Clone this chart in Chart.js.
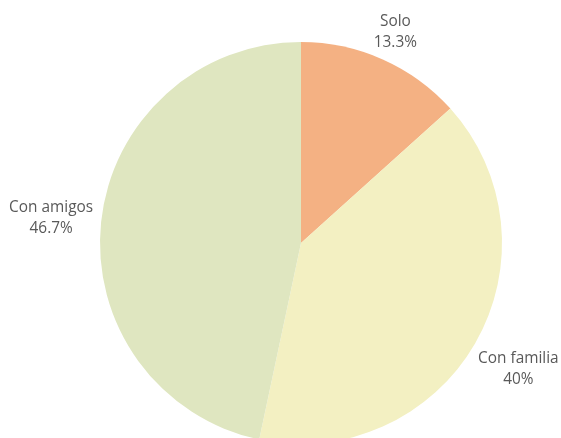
<!DOCTYPE html>
<html>
<head>
<meta charset="utf-8">
<script src="https://cdn.jsdelivr.net/npm/chart.js@4/dist/chart.umd.min.js"></script>
<style>
  html, body { margin: 0; padding: 0; background: #fff; overflow: hidden; }
  #wrap { width: 561px; height: 438px; overflow: hidden; }
</style>
</head>
<body>
<div id="wrap"><canvas id="pieChart" width="561" height="486"></canvas></div>
<script>
var categories = ['Solo', 'Con familia', 'Con amigos'];
var counts = [2, 6, 7];
var percentLabels = ['13.3%', '40%', '46.7%'];
var sliceColors = ['#f4b183', '#f3f0c2', '#dfe6c0'];

// etiquetas fuera del circulo: nombre + porcentaje
var outsideLabels = {
    id: 'outsideLabels',
    afterDraw: function (chart) {
        var ctx = chart.ctx;
        var meta = chart.getDatasetMeta(0);
        ctx.save();
        ctx.font = '15.4px "Open Sans"';
        ctx.fillStyle = '#595959';
        ctx.textAlign = 'center';
        ctx.textBaseline = 'middle';
        var lineH = 21;
        meta.data.forEach(function (arc, i) {
            var mid = (arc.startAngle + arc.endAngle) / 2;
            var dx = Math.cos(mid), dy = Math.sin(mid);
            var ax = arc.x + (arc.outerRadius + 8) * dx;
            var ay = arc.y + (arc.outerRadius + 8) * dy;
            var lines = [categories[i], percentLabels[i]];
            var w = Math.max.apply(null, lines.map(function (t) { return ctx.measureText(t).width; }));
            var halfW = w / 2, halfH = lines.length * lineH / 2;
            var t = Math.min(
                Math.abs(dx) > 1e-6 ? halfW / Math.abs(dx) : Infinity,
                Math.abs(dy) > 1e-6 ? halfH / Math.abs(dy) : Infinity
            );
            var cx = ax + t * dx, cy = ay + t * dy;
            lines.forEach(function (txt, k) {
                ctx.fillText(txt, cx, cy - halfH + lineH / 2 + k * lineH + 1);
            });
        });
        ctx.restore();
    }
};

var ctx = document.getElementById('pieChart');
var chart = new Chart(ctx, {
    type: 'pie',
    data: {
        labels: categories,
        datasets: [{
            data: counts,
            backgroundColor: sliceColors,
            borderWidth: 0
        }]
    },
    options: {
        responsive: false,
        animation: false,
        layout: { padding: { left: 100, right: 59, top: 42, bottom: 42 } },
        plugins: {
            legend: { display: false },
            tooltip: { enabled: false }
        }
    },
    plugins: [outsideLabels]
});
</script>
</body>
</html>
